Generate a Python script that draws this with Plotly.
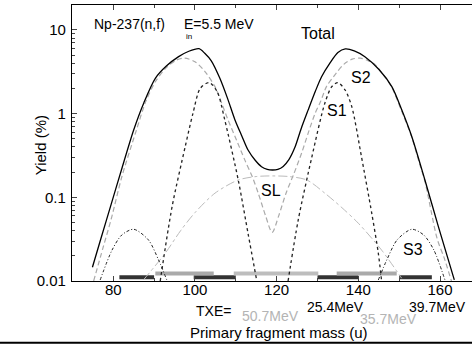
import plotly.graph_objects as go

# ---- data ----
total_mass = [74.9, 77.0, 79.5, 82.0, 85.0, 87.5, 90.3, 93.0, 96.0, 98.5, 101.0, 102.4, 104.0, 106.1, 108.0,
              109.8, 111.5, 113.0, 114.8, 116.3, 117.7, 119.0, 120.3, 121.6, 123.0, 124.5, 126.0, 127.7,
              129.5, 131.0, 133.0, 135.0, 136.8, 139.0, 141.6, 145.0, 148.2, 150.6, 153.1, 156.3, 159.6, 163.5]
total_yield = [0.0146, 0.0324, 0.083, 0.212, 0.637, 1.35, 2.64, 3.70, 4.79, 5.56, 5.96, 5.25, 4.27, 2.64, 1.51,
               0.84, 0.537, 0.367, 0.275, 0.232, 0.216, 0.212, 0.216, 0.234, 0.282, 0.398, 0.66, 1.10,
               1.86, 2.76, 3.98, 5.37, 5.92, 5.62, 4.79, 3.39, 2.10, 1.12, 0.53, 0.161, 0.0446, 0.0103]

s2_mass = [75.2, 77.5, 79.5, 82.1, 85.6, 88.0, 90.3, 93.0, 95.5, 97.5, 100.0, 102.5, 104.9, 106.5, 108.1,
           110.2, 112.2, 114.0, 115.5, 117.3, 118.9, 120.5, 122.3, 124.2, 126.1, 127.8, 129.4, 130.8,
           132.2, 134.5, 136.5, 138.5, 140.5, 142.5, 144.0, 146.2, 148.2, 150.6, 153.1, 155.0, 156.3,
           159.3, 161.0, 162.8]
s2_yield = [0.01, 0.025, 0.055, 0.176, 0.62, 1.41, 2.4, 3.55, 4.37, 4.6, 4.17, 3.16, 2.1, 1.35, 0.84,
            0.48, 0.28, 0.178, 0.112, 0.060, 0.038, 0.060, 0.112, 0.19, 0.336, 0.60, 1.0, 1.41,
            2.1, 3.0, 3.9, 4.47, 4.6, 4.27, 3.9, 2.88, 2.05, 1.07, 0.52, 0.25, 0.155,
            0.032, 0.019, 0.01]

s1_mass = [91.5, 94.4, 97.6, 99.5, 101.3, 103.5, 105.5, 107.3, 110.6, 113.0, 115.1, None,
           122.8, 125.3, 128.6, 131.8, 133.5, 135.0, 136.8, 138.4, 140.8, 143.3, 144.9, 145.7]
s1_yield = [0.01, 0.077, 0.40, 1.0, 2.0, 2.35, 1.8, 0.84, 0.161, 0.037, 0.0103, None,
            0.01, 0.054, 0.30, 1.33, 2.1, 2.35, 1.9, 1.21, 0.30, 0.064, 0.0214, 0.01]

s3_mass = [76.8, 79.7, 82.1, 85.0, 88.6, 91.1, 93.1, None, 144.9, 147.0, 149.5, 153.1, 156.0, 158.5, 161.2]
s3_yield = [0.0103, 0.0234, 0.0355, 0.0415, 0.031, 0.0178, 0.0103, None, 0.0103, 0.018, 0.031, 0.0415, 0.0355, 0.0234, 0.0103]

sl_mass = [87.4, 92.7, 96.5, 100.0, 104.9, 110.6, 115.0, 119.0, 123.0, 127.4, 131.8, 136.0, 140.0, 145.7, 150.6]
sl_yield = [0.0103, 0.0214, 0.04, 0.0655, 0.112, 0.161, 0.177, 0.18, 0.177, 0.161, 0.112, 0.075, 0.049, 0.0234, 0.0108]

# TXE mass-range bars
dark_bars = [(81.5, 90.0), (99.7, 110.0), (130.0, 140.0), (150.0, 158.0)]
dark_bar_y = 0.01107
light_bars = [(90.3, 104.6), (109.5, 130.2), (134.7, 149.4)]
light_bar_colors = ["#aaaaaa", "#bdbdbd", "#aaaaaa"]
light_bar_y = 0.0123

x_ticks = [80, 100, 120, 140, 160]
y_ticks = [0.01, 0.1, 1, 10]
y_tick_text = ["0.01", "0.1", "1", "10"]
y_minor = [m * 10 ** e for e in (-2, -1, 0, 1) for m in range(2, 10)]

FONT = "Liberation Sans, Arial, sans-serif"

fig = go.Figure()

for (a, b) in dark_bars:
    fig.add_trace(go.Scatter(x=[a, b], y=[dark_bar_y, dark_bar_y], mode="lines",
                             line=dict(color="#333333", width=4), hoverinfo="skip", showlegend=False))
for (a, b), c in zip(light_bars, light_bar_colors):
    fig.add_trace(go.Scatter(x=[a, b], y=[light_bar_y, light_bar_y], mode="lines",
                             line=dict(color=c, width=4), hoverinfo="skip", showlegend=False))

SM = 0.8
fig.add_trace(go.Scatter(x=sl_mass, y=sl_yield, mode="lines", line=dict(color="#bbbbbb", width=1, dash="dashdot", shape="spline", smoothing=SM), showlegend=False))
fig.add_trace(go.Scatter(x=s3_mass, y=s3_yield, mode="lines", line=dict(color="#222222", width=1, dash="3px,2px,1px,2px", shape="spline", smoothing=SM), showlegend=False))
fig.add_trace(go.Scatter(x=s2_mass, y=s2_yield, mode="lines", line=dict(color="#aaaaaa", width=1.2, dash="5px,3px", shape="spline", smoothing=SM), showlegend=False))
fig.add_trace(go.Scatter(x=s1_mass, y=s1_yield, mode="lines", line=dict(color="#222222", width=1.3, dash="dot", shape="spline", smoothing=SM), showlegend=False))
fig.add_trace(go.Scatter(x=total_mass, y=total_yield, mode="lines", line=dict(color="black", width=1.3, shape="spline", smoothing=SM), showlegend=False))

fig.update_layout(
    width=472, height=344,
    margin=dict(l=72, r=0, t=5, b=63),
    paper_bgcolor="white", plot_bgcolor="white",
    font=dict(family=FONT, size=15, color="black"),
    xaxis=dict(range=[69.9, 167.83], tickvals=x_ticks, ticks="inside", ticklen=5, tickwidth=1.2,
               showline=True, linecolor="black", linewidth=1.3, mirror="ticks", showgrid=False, zeroline=False,
               ticklabelstandoff=-5,
               tickfont=dict(size=15), minor=dict(dtick=10, tick0=70, ticks="inside", ticklen=3, tickwidth=1, showgrid=False)),
    yaxis=dict(type="log", range=[-2, 1.2975], tickvals=y_ticks, ticktext=y_tick_text, ticks="inside", ticklen=5,
               tickwidth=1.2, showline=True, linecolor="black", linewidth=1.3, mirror=False, showgrid=False,
               zeroline=False, tickfont=dict(size=15), ticklabelstandoff=2,
               minor=dict(tickvals=y_minor, ticks="inside", ticklen=3, tickwidth=1, showgrid=False)),
)

def ann(text, x, y, size=15, color="black", xanchor="center", xref="x", yref="y"):
    fig.add_annotation(text=text, x=x, y=y, xref=xref, yref=yref, showarrow=False,
                       font=dict(family=FONT, size=size, color=color), xanchor=xanchor, yanchor="middle")

ann("Np-237(n,f)", 74.9, 1.07, size=14, xanchor="left")
ann("E=5.5 MeV", 96.8, 1.07, size=14, xanchor="left")
ann("in", 97.2, 0.925, size=8, xanchor="left")
ann("Total", 130.2, 0.963, size=16)
ann("S2", 140.6, 0.437, size=16)
ann("S1", 134.8, 0.043, size=16)
ann("SL", 118.6, -0.913, size=16)
ann("S3", 153.3, -1.618, size=16)
ann("TXE=", 104.6, -0.11, size=14, yref="paper")
ann("50.7MeV", 118.6, -0.128, size=14, color="#b4b4b4", yref="paper")
ann("25.4MeV", 134.4, -0.095, size=14, yref="paper")
ann("35.7MeV", 147.3, -0.139, size=14, color="#b4b4b4", yref="paper")
ann("39.7MeV", 159.5, -0.095, size=14, yref="paper")
ann("Primary fragment mass (u)", 0.518, -0.185, xref="paper", yref="paper")
fig.add_annotation(text="Yield (%)", x=-0.105, y=0.49, xref="paper", yref="paper", showarrow=False, textangle=-90,
                   font=dict(family=FONT, size=15, color="black"))

fig.add_shape(type="line", xref="paper", yref="paper", x0=-0.18, x1=1.0, y0=-0.2236, y1=-0.2236,
              line=dict(color="black", width=2))

fig.write_html("out.html")
